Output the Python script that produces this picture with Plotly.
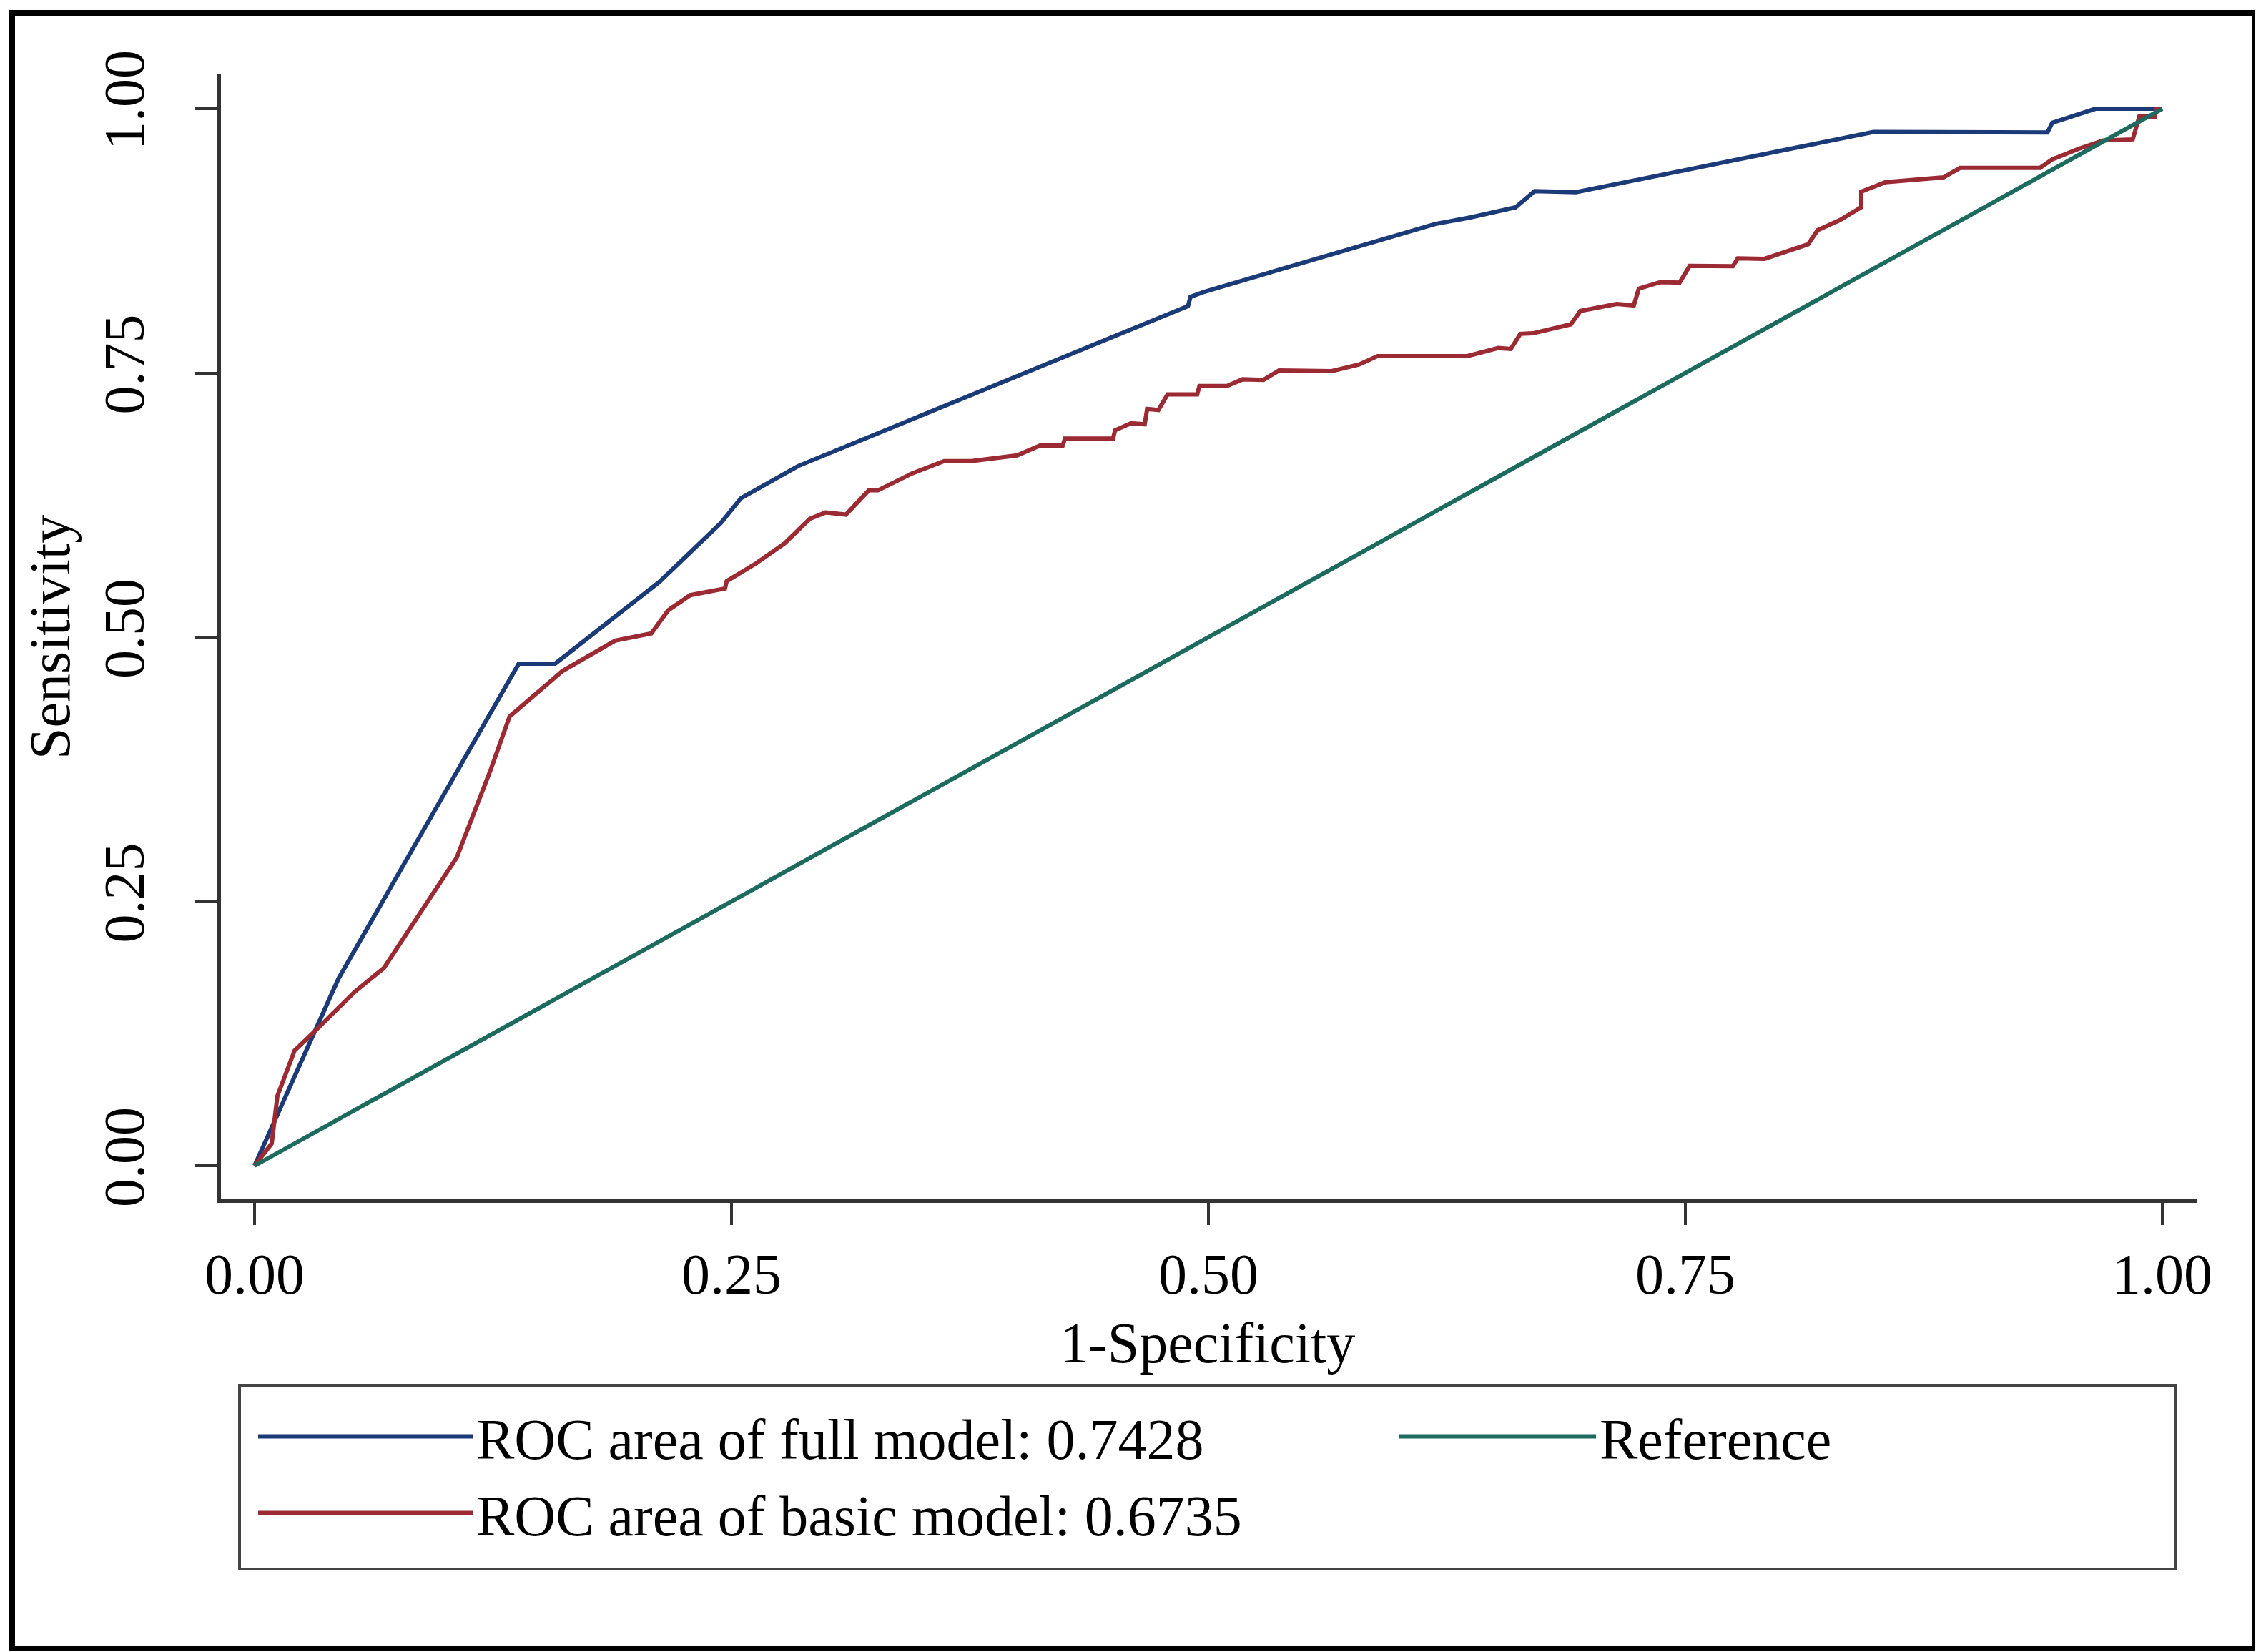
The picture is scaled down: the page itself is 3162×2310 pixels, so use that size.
import plotly.graph_objects as go

# ---- data ----
full_x = [0.0, 0.044, 0.1385, 0.1576, 0.212, 0.2444, 0.255, 0.285, 0.4893, 0.4906,
          0.4978, 0.619, 0.637, 0.661, 0.671, 0.6927, 0.8486, 0.9398, 0.9423, 0.965, 1.0]
full_y = [0.0, 0.177, 0.475, 0.475, 0.552, 0.608, 0.6315, 0.662, 0.8133, 0.822,
          0.8268, 0.891, 0.897, 0.9067, 0.922, 0.921, 0.978, 0.9775, 0.9867, 1.0, 1.0]

basic_x = [0.0, 0.009, 0.012, 0.021, 0.032, 0.0525, 0.0678, 0.106, 0.124, 0.1337,
           0.1614, 0.189, 0.208, 0.2168, 0.2284, 0.2466, 0.2475, 0.263, 0.278, 0.291,
           0.2993, 0.31, 0.322, 0.3268, 0.3447, 0.3615, 0.3758, 0.3997, 0.4117, 0.4236,
           0.4248, 0.45, 0.4511, 0.4595, 0.4666, 0.4679, 0.4738, 0.4786, 0.4941, 0.4953,
           0.5097, 0.518, 0.5289, 0.537, 0.5646, 0.579, 0.5887, 0.6357, 0.652, 0.6585,
           0.6635, 0.670, 0.690, 0.695, 0.714, 0.723, 0.7256, 0.737, 0.747, 0.7523,
           0.7749, 0.7775, 0.7915, 0.8143, 0.8194, 0.8308, 0.8422, 0.8422, 0.8549, 0.8853,
           0.894, 0.9359, 0.9423, 0.956, 0.969, 0.9845, 0.988, 0.996, 0.997, 1.0]
basic_y = [0.0, 0.021, 0.066, 0.109, 0.128, 0.1645, 0.187, 0.2916, 0.3757, 0.425,
           0.468, 0.4967, 0.5036, 0.5254, 0.5398, 0.546, 0.553, 0.570, 0.589, 0.612,
           0.618, 0.616, 0.639, 0.639, 0.655, 0.6666, 0.6666, 0.672, 0.6813, 0.6813,
           0.688, 0.688, 0.6958, 0.7025, 0.7014, 0.716, 0.715, 0.7298, 0.7298, 0.7376,
           0.7376, 0.744, 0.7435, 0.7523, 0.7517, 0.758, 0.766, 0.766, 0.7736, 0.7727,
           0.787, 0.7875, 0.796, 0.8087, 0.8153, 0.814, 0.8298, 0.836, 0.8355, 0.8513,
           0.851, 0.8585, 0.858, 0.8717, 0.8852, 0.8944, 0.9068, 0.9215, 0.9305, 0.935,
           0.944, 0.944, 0.952, 0.962, 0.970, 0.971, 0.993, 0.992, 1.0, 1.0]

ref_x = [0.0, 1.0]
ref_y = [0.0, 1.0]

tick_vals = [0.0, 0.25, 0.5, 0.75, 1.0]
tick_text = ["0.00", "0.25", "0.50", "0.75", "1.00"]

name_full = "ROC area of full model: 0.7428"
name_basic = "ROC area of basic model: 0.6735"
name_ref = "Reference"
x_title = "1-Specificity"
y_title = "Sensitivity"

# ---- style ----
C_FULL = "#1b3a78"
C_BASIC = "#9b2a32"
C_REF = "#1c6b5e"
FONT = "Liberation Serif"
FS = 80
LW = 6
W, H = 3162, 2310
ML, MR, MT, MB = 301, 98, 96, 641

fig = go.Figure()
fig.add_trace(go.Scatter(x=full_x, y=full_y, mode="lines", name=name_full,
                         line=dict(color=C_FULL, width=LW), legend="legend"))
fig.add_trace(go.Scatter(x=basic_x, y=basic_y, mode="lines", name=name_basic,
                         line=dict(color=C_BASIC, width=LW), legend="legend"))
fig.add_trace(go.Scatter(x=ref_x, y=ref_y, mode="lines", name=name_ref,
                         line=dict(color=C_REF, width=LW), legend="legend2"))

pw = W - ML - MR
ph = H - MT - MB


def px_x(p):
    return (p - ML) / pw


def px_y(p):
    return (H - MB - p) / ph


axis_common = dict(showgrid=False, zeroline=False, showline=True, linecolor="#333333",
                   linewidth=4.5, ticks="outside", ticklen=31, tickwidth=3.5,
                   tickcolor="#333333", tickvals=tick_vals, ticktext=tick_text,
                   tickfont=dict(family=FONT, size=FS, color="black"))

legend_common = dict(orientation="v", xanchor="left", yanchor="top",
                     font=dict(family=FONT, size=FS, color="black"),
                     bgcolor="rgba(0,0,0,0)", borderwidth=0, traceorder="normal")

fig.update_layout(
    width=W, height=H,
    margin=dict(l=ML, r=MR, t=MT, b=MB, autoexpand=False),
    paper_bgcolor="white", plot_bgcolor="white",
    xaxis=dict(range=[-0.0176, 1.018], ticklabelstandoff=0, **axis_common),
    yaxis=dict(range=[-0.0318, 1.0325], tickangle=-90, ticklabelstandoff=40, **axis_common),
    showlegend=True,
    legend=dict(x=px_x(348), y=px_y(1942), itemwidth=300, **legend_common),
    legend2=dict(x=px_x(1944), y=px_y(1942), itemwidth=275, **legend_common),
    annotations=[
        dict(text=x_title, xref="paper", yref="paper", x=px_x(1680), y=px_y(1870),
             xanchor="center", yanchor="middle", showarrow=False,
             font=dict(family=FONT, size=FS, color="black")),
        dict(text=y_title, xref="paper", yref="paper", x=px_x(62), y=px_y(883),
             xanchor="center", yanchor="middle", showarrow=False, textangle=-90,
             font=dict(family=FONT, size=FS, color="black")),
    ],
    shapes=[
        dict(type="rect", xref="paper", yref="paper",
             x0=px_x(327), x1=px_x(3034), y0=px_y(2186), y1=px_y(1929),
             line=dict(color="#444444", width=4), fillcolor="rgba(0,0,0,0)", layer="below"),
        dict(type="rect", xref="paper", yref="paper",
             x0=px_x(9), x1=px_x(3146), y0=px_y(2297), y1=px_y(10),
             line=dict(color="black", width=8), fillcolor="rgba(0,0,0,0)", layer="above"),
    ],
)

fig.write_html("out.html")
